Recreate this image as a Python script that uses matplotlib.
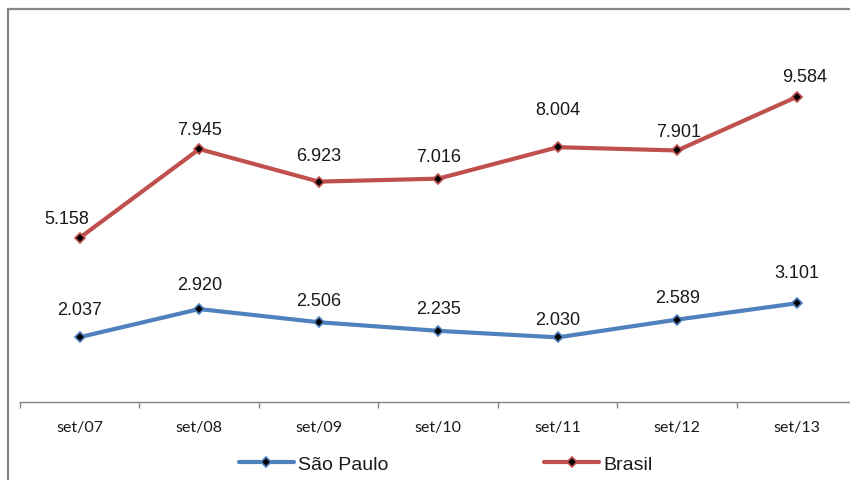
import matplotlib
matplotlib.use("Agg")
import matplotlib.pyplot as plt
from matplotlib.patches import Rectangle

# Data
periods = ["set/07", "set/08", "set/09", "set/10", "set/11", "set/12", "set/13"]
sao_paulo = [2.037, 2.920, 2.506, 2.235, 2.030, 2.589, 3.101]
brasil = [5.158, 7.945, 6.923, 7.016, 8.004, 7.901, 9.584]

blue = "#4F81BD"
red = "#C0504D"
gray = "#868686"

fig = plt.figure(figsize=(8.5, 4.81), dpi=100)
fig.patch.set_facecolor("white")

# Outer chart border
fig.patches.append(Rectangle((8 / 850, -0.1), 1.2, 1 - 10 / 481 + 0.1,
                             transform=fig.transFigure, fill=False,
                             edgecolor=gray, linewidth=1.6, zorder=0))

ax = fig.add_axes([20 / 850, 1 - 403 / 481, 836.5 / 850, (403 - 21) / 481])
x = list(range(len(periods)))

series = [("São Paulo", sao_paulo, blue), ("Brasil", brasil, red)]
for name, vals, col in series:
    ax.plot(x, vals, color=col, linewidth=3.0, solid_capstyle="round",
            marker="D", markersize=5, markerfacecolor="black",
            markeredgecolor=col, markeredgewidth=1.2, label=name, zorder=3)

def fmt(v):
    return f"{v:.3f}"

# Value labels
sp_dy = [20, 18, 16, 16, 13, 16, 22]
br_dy = [14, 14, 19, 16, 27, 14, 15]
br_dx = [-9, 0, 0, 0, 0, 1, 6]
for i, v in enumerate(sao_paulo):
    ax.annotate(fmt(v), (i, v), xytext=(0, sp_dy[i]), textcoords="offset points",
                ha="center", va="center", fontsize=13, color="#1a1a1a",
                family="Liberation Sans")
for i, v in enumerate(brasil):
    ax.annotate(fmt(v), (i, v), xytext=(br_dx[i], br_dy[i]), textcoords="offset points",
                ha="center", va="center", fontsize=13, color="#1a1a1a",
                family="Liberation Sans")

ax.set_xlim(-0.5, len(periods) - 0.5)
ax.set_ylim(0, 12)

for s in ["top", "right", "left"]:
    ax.spines[s].set_visible(False)
ax.spines["bottom"].set_color(gray)
ax.spines["bottom"].set_linewidth(1.0)
ax.set_yticks([])

ax.set_xticks([i - 0.5 for i in range(len(periods) + 1)], minor=False)
ax.set_xticklabels([])
ax.tick_params(axis="x", which="major", direction="out", length=4.5,
               color=gray, width=1.0)
ax.set_xticks(x, minor=True)
ax.set_xticklabels(periods, minor=True, fontsize=11.5, family="Lato",
                   color="#1a1a1a")
ax.tick_params(axis="x", which="minor", length=0, pad=13)

leg = fig.legend(loc="center", bbox_to_anchor=(446 / 850, 1 - 465 / 481),
                 ncol=2, frameon=False, handlelength=2.8, handletextpad=0.25,
                 columnspacing=8.0, prop={"family": "Liberation Sans", "size": 14})
for t in leg.get_texts():
    t.set_color("#1a1a1a")

fig.savefig("out.png", dpi=100, facecolor="white")
